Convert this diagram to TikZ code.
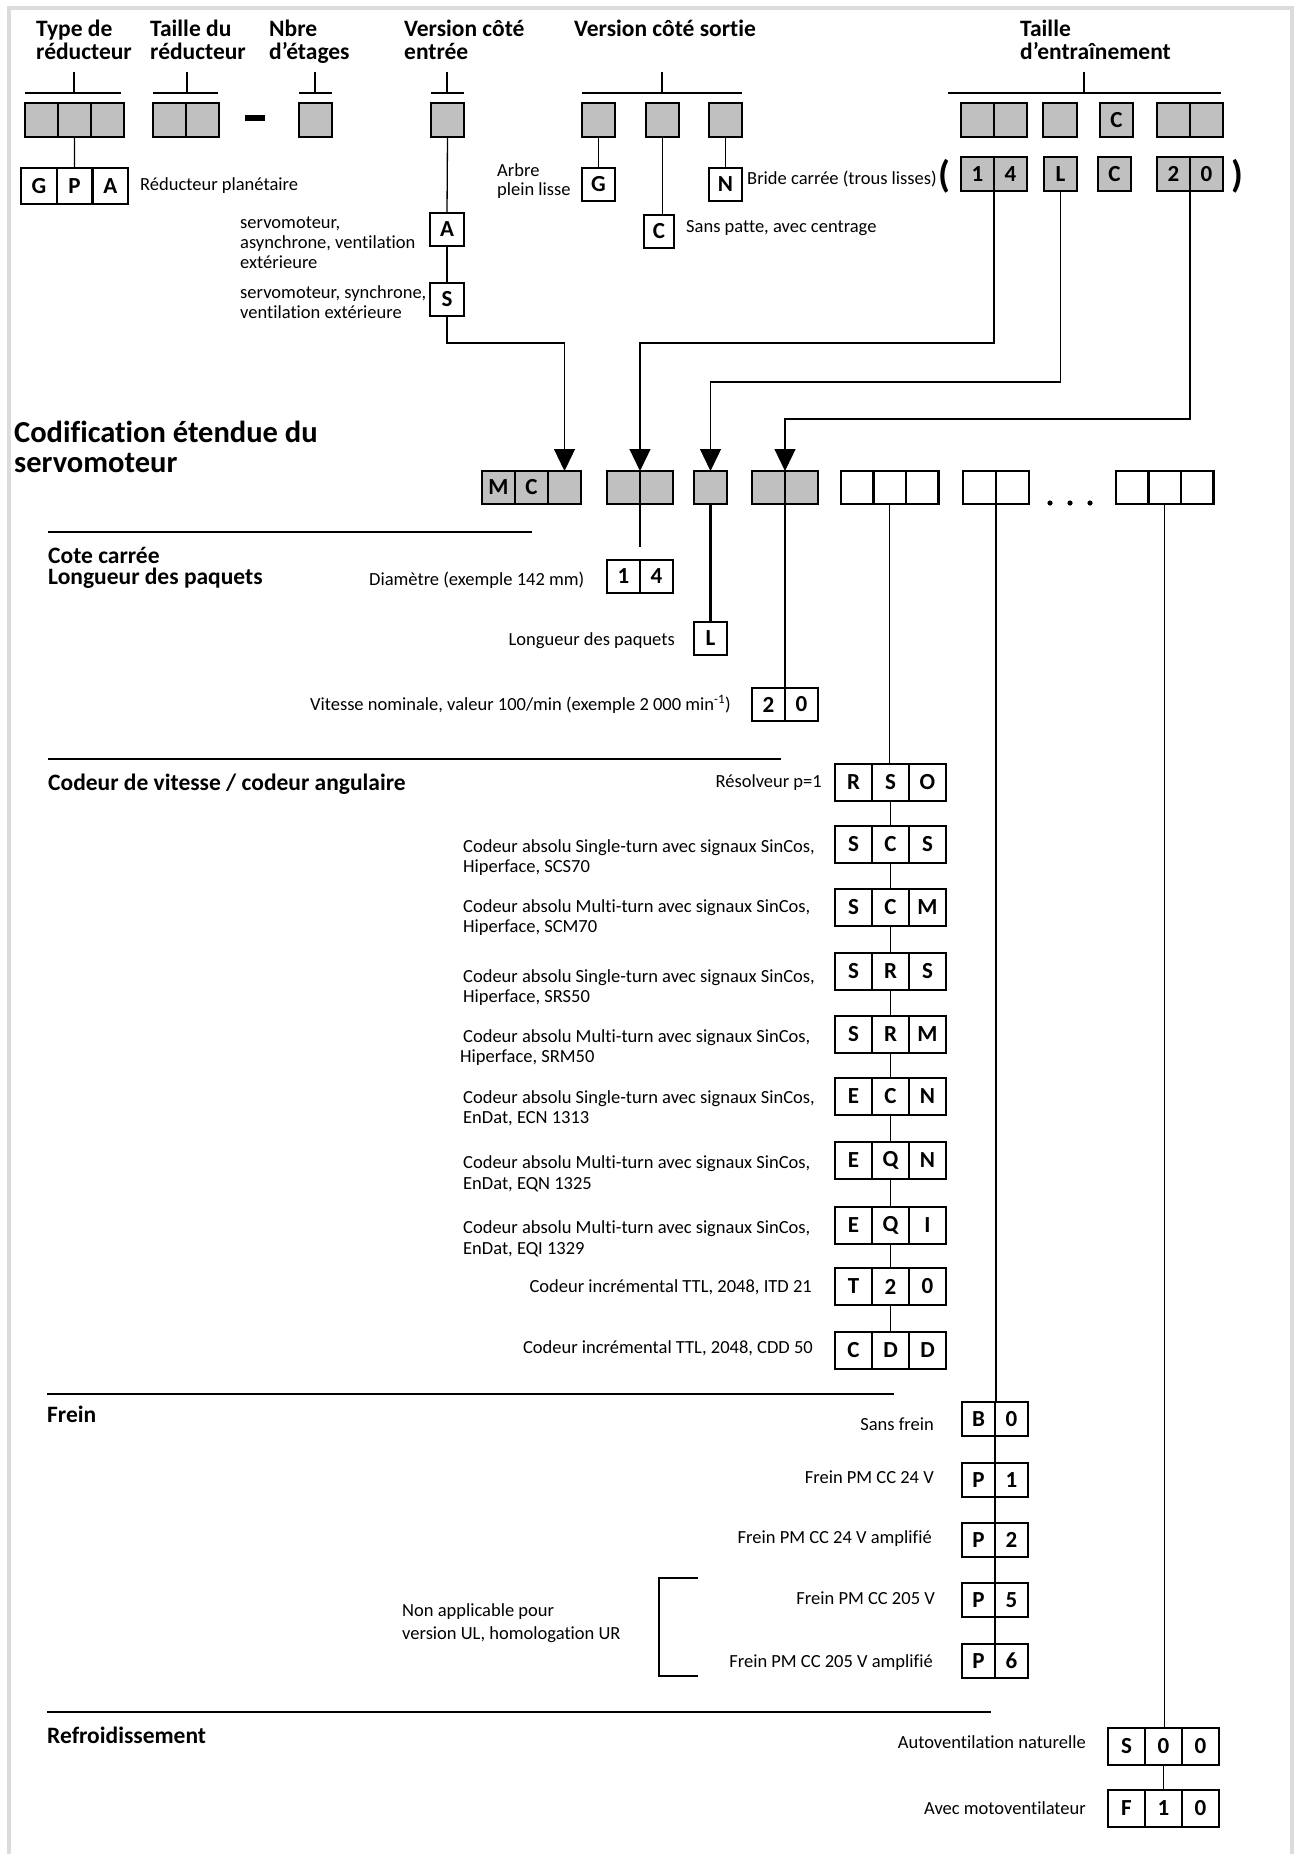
\documentclass[tikz,border=0pt]{standalone}
\usepackage{fontspec}
\setmainfont{Carlito}[Ligatures=NoCommon]
\usetikzlibrary{arrows.meta}
\definecolor{boxgray}{RGB}{192,192,192}
\definecolor{framegray}{RGB}{220,220,220}
\newcommand\nix{}
\newcommand\cbox[7]{%
  \foreach \lt [count=\ci] in {#7} {%
    \node[cell, fill=#6, minimum width=#4pt, minimum height=#5pt] (#1-\ci) at ({#2+(\ci-1)*#4}, #3) {\lt};
  }%
}
\tikzset{
  cell/.style={draw, line width=2.4pt, inner sep=0pt, outer sep=0pt, anchor=north west,
    font=\fontsize{23}{23}\selectfont\bfseries},
  conn/.style={line width=1.3pt},
  arr/.style={-{Triangle[width=21pt,length=22pt]}},
  secline/.style={line width=1.6pt},
  lab/.style={font=\fontsize{18.5}{18.5}\selectfont, inner sep=0pt},
  hdr/.style={font=\fontsize{23.5}{23.5}\selectfont\bfseries, inner sep=0pt},
  big/.style={font=\fontsize{30.5}{30.5}\selectfont\bfseries, inner sep=0pt},
  paren/.style={font=\fontsize{38}{38}\selectfont\bfseries, inner sep=0pt},
}
\begin{document}
\begin{tikzpicture}[x=1pt,y=-1pt]
\useasboundingbox (0,0) rectangle (1295,1854);
\fill[white] (0,0) rectangle (1295,1854);
\draw[framegray, line width=4pt] (9,1854) -- (9,8.5) -- (1292,8.5) -- (1292,1854);

% ---------- headers ----------
\node[hdr, anchor=base west] (h1a) at (36,37) {Type de};
\node[hdr, anchor=base west] (h1b) at (36,60) {réducteur};
\node[hdr, anchor=base west] (h2a) at (150,37) {Taille du};
\node[hdr, anchor=base west] (h2b) at (150,60) {réducteur};
\node[hdr, anchor=base west] (h3a) at (269,37) {Nbre};
\node[hdr, anchor=base west] (h3b) at (269,60) {d’étages};
\node[hdr, anchor=base west] (h4a) at (404,37) {Version côté};
\node[hdr, anchor=base west] (h4b) at (404,60) {entrée};
\node[hdr, anchor=base west] (h5) at (574,37) {Version côté sortie};
\node[hdr, anchor=base west] (h6a) at (1020,37) {Taille};
\node[hdr, anchor=base west] (h6b) at (1020,60) {d’entraînement};

% header brackets
\draw[conn] (74,72) -- (74,93) (25,93) -- (121,93);
\draw[conn] (187,72) -- (187,93) (153,93) -- (218,93);
\draw[conn] (315,72) -- (315,93) (299,93) -- (332,93);
\draw[conn] (447,72) -- (447,93) (431,93) -- (464,93);
\draw[conn] (662,72) -- (662,93) (582,93) -- (742,93);
\draw[conn] (1084,72) -- (1084,93) (948,93) -- (1221,93);

% ---------- row 1 ----------
\cbox{t1}{25}{103}{33}{34}{boxgray}{\nix,\nix,\nix}
\cbox{t2}{153}{103}{33}{34}{boxgray}{\nix,\nix}
\draw[line width=6pt] (245,118.5) -- (265,118.5);
\cbox{t3}{299}{103}{33}{34}{boxgray}{\nix}
\cbox{t4}{431}{103}{33}{34}{boxgray}{\nix}
\cbox{t5a}{582}{103}{33}{34}{boxgray}{\nix}
\cbox{t5b}{646}{103}{33}{34}{boxgray}{\nix}
\cbox{t5c}{709}{103}{33}{34}{boxgray}{\nix}
\cbox{t6a}{961}{103}{33}{34}{boxgray}{\nix,\nix}
\cbox{t6b}{1043}{103}{34}{34}{boxgray}{\nix}
\cbox{t6c}{1100}{103}{33}{34}{boxgray}{C}
\cbox{t6d}{1157}{103}{33}{34}{boxgray}{\nix,\nix}

% ---------- row 2 ----------
\cbox{gpa}{21}{168}{35.7}{36}{white}{G,P,A}
\node[lab, anchor=base west] (lgpa) at (140,190) {Réducteur planétaire};
\cbox{ka}{430}{213}{34}{33}{white}{A}
\cbox{ks}{430}{283}{34}{33}{white}{S}
\node[lab, anchor=base west] (la1) at (240,228) {servomoteur,};
\node[lab, anchor=base west] (la2) at (240,248) {asynchrone, ventilation};
\node[lab, anchor=base west] (la3) at (240,268) {extérieure};
\node[lab, anchor=base west] (ls1) at (240,298) {servomoteur, synchrone,};
\node[lab, anchor=base west] (ls2) at (240,318) {ventilation extérieure};
\cbox{og}{582}{168}{33}{33}{white}{G}
\cbox{on}{709}{168}{33}{33}{white}{N}
\cbox{oc}{644}{215}{30}{33}{white}{C}
\node[lab, anchor=base west] (lg1) at (497,177) {Arbre};
\node[lab, anchor=base west] (lg2) at (497,196) {plein lisse};
\node[lab, anchor=base west] (ln) at (747,185) {Bride carrée (trous lisses)};
\node[paren] (po) at (944,176) {(};
\node[paren] (pf) at (1237,176) {)};
\node[lab, anchor=base west] (lc) at (686,233) {Sans patte, avec centrage};
\cbox{p14}{961}{157}{33}{34}{boxgray}{1,4}
\cbox{pl}{1044}{157}{33}{34}{boxgray}{L}
\cbox{pc}{1098}{157}{33}{34}{boxgray}{C}
\cbox{p20}{1157}{157}{33}{34}{boxgray}{2,0}

% ---------- row 3 ----------
\node[big, anchor=base west] (ti1) at (14,442) {Codification étendue du};
\node[big, anchor=base west] (ti2) at (14,472) {servomoteur};
\cbox{mc}{482}{471}{33}{33}{boxgray}{M,C,\nix}
\cbox{b2}{607}{471}{33}{33}{boxgray}{\nix,\nix}
\cbox{b3}{694}{471}{33}{33}{boxgray}{\nix}
\cbox{b4}{752}{471}{33}{33}{boxgray}{\nix,\nix}
\cbox{b5}{841}{471}{32.5}{33}{white}{\nix,\nix,\nix}
\cbox{b6}{963}{471}{33}{33}{white}{\nix,\nix}
\fill (1050,503) circle (2.6) (1070,503) circle (2.6) (1090,503) circle (2.6);
\cbox{b7}{1116}{471}{32.5}{33}{white}{\nix,\nix,\nix}

% connectors top
\draw[conn] (t1-2.south) -- (gpa-2.north);
\draw[conn] (t4-1.south) -- (ka-1.north);
\draw[conn] (ka-1.south) -- (ks-1.north);
\draw[conn,arr] (ks-1.south) -- ++(0,27) -| (mc-3.north);
\draw[conn] (t5a-1.south) -- (og-1.north);
\draw[conn] (t5b-1.south) -- (t5b-1.south |- oc-1.north);
\draw[conn] (t5c-1.south) -- (on-1.north);
\draw[conn,arr] (p14-1.south east) -- ++(0,152) -| (b2-1.north east);
\draw[conn,arr] (pl-1.south) -- ++(0,191) -| (b3-1.north);
\draw[conn,arr] (p20-1.south east) -- ++(0,228) -| (b4-1.north east);

% ---------- Cote carrée ----------
\draw[secline] (48,532) -- (532,532);
\node[hdr, anchor=base west] (sc1) at (48,563) {Cote carrée};
\node[hdr, anchor=base west] (sc2) at (48,584) {Longueur des paquets};
\cbox{d14}{607}{560}{33}{33}{white}{1,4}
\cbox{dl}{694}{622}{33}{33}{white}{L}
\cbox{d20}{752}{688}{33}{33}{white}{2,0}
\node[lab, anchor=base west] (ld14) at (369,585) {Diamètre (exemple 142 mm)};
\node[lab, anchor=base east] (ldl) at (675,645) {Longueur des paquets};
\node[lab, anchor=base east] (ld20) at (731,710) {Vitesse nominale, valeur 100/min (exemple 2 000 min\textsuperscript{-1})};
\draw[conn,shorten >=13pt] (b2-1.south east) -- (d14-1.north east);
\draw[line width=2.2pt] (b3-1.south) -- (dl-1.north);
\draw[conn] (b4-1.south east) -- (d20-1.north east);

% ---------- Codeur ----------
\draw[secline] (48,759) -- (781,759);
\node[hdr, anchor=base west] (scod) at (48,790) {Codeur de vitesse / codeur angulaire};
\cbox{e1}{835}{764}{37}{37}{white}{R,S,O}
\cbox{e2}{835}{826}{37}{37}{white}{S,C,S}
\cbox{e3}{835}{889}{37}{37}{white}{S,C,M}
\cbox{e4}{835}{953}{37}{37}{white}{S,R,S}
\cbox{e5}{835}{1016}{37}{37}{white}{S,R,M}
\cbox{e6}{835}{1078}{37}{37}{white}{E,C,N}
\cbox{e7}{835}{1142}{37}{37}{white}{E,Q,N}
\cbox{e8}{835}{1207}{37}{37}{white}{E,Q,I}
\cbox{e9}{835}{1268}{37}{37}{white}{T,2,0}
\cbox{e10}{835}{1332}{37}{37}{white}{C,D,D}
\draw[conn] (b5-2.south) -- (b5-2.south |- e1-2.north);
\foreach \a/\b in {1/2,2/3,3/4,4/5,5/6,6/7,7/8,8/9,9/10}
  \draw[conn] (e\a-2.south) -- (e\b-2.north);
\node[lab, anchor=base east] (le1) at (822,787) {Résolveur p=1};
\node[lab, anchor=base west] (le2a) at (463,852) {Codeur absolu Single-turn avec signaux SinCos,};
\node[lab, anchor=base west] (le2b) at (463,872) {Hiperface, SCS70};
\node[lab, anchor=base west] (le3a) at (463,912) {Codeur absolu Multi-turn avec signaux SinCos,};
\node[lab, anchor=base west] (le3b) at (463,932) {Hiperface, SCM70};
\node[lab, anchor=base west] (le4a) at (463,982) {Codeur absolu Single-turn avec signaux SinCos,};
\node[lab, anchor=base west] (le4b) at (463,1002) {Hiperface, SRS50};
\node[lab, anchor=base west] (le5a) at (463,1042) {Codeur absolu Multi-turn avec signaux SinCos,};
\node[lab, anchor=base west] (le5b) at (460,1062) {Hiperface, SRM50};
\node[lab, anchor=base west] (le6a) at (463,1103) {Codeur absolu Single-turn avec signaux SinCos,};
\node[lab, anchor=base west] (le6b) at (463,1123) {EnDat, ECN 1313};
\node[lab, anchor=base west] (le7a) at (463,1168) {Codeur absolu Multi-turn avec signaux SinCos,};
\node[lab, anchor=base west] (le7b) at (463,1189) {EnDat, EQN 1325};
\node[lab, anchor=base west] (le8a) at (463,1233) {Codeur absolu Multi-turn avec signaux SinCos,};
\node[lab, anchor=base west] (le8b) at (463,1254) {EnDat, EQI 1329};
\node[lab, anchor=base east] (le9) at (812,1292) {Codeur incrémental TTL, 2048, ITD 21};
\node[lab, anchor=base east] (le10) at (813,1353) {Codeur incrémental TTL, 2048, CDD 50};

% ---------- Frein ----------
\draw[secline] (47,1394) -- (894,1394);
\node[hdr, anchor=base west] (sfr) at (47,1422) {Frein};
\cbox{f1}{962}{1402}{33}{34}{white}{B,0}
\cbox{f2}{962}{1463}{33}{34}{white}{P,1}
\cbox{f3}{962}{1523}{33}{34}{white}{P,2}
\cbox{f4}{962}{1583}{33}{34}{white}{P,5}
\cbox{f5}{962}{1644}{33}{34}{white}{P,6}
\draw[conn] (b6-1.south east) -- (b6-1.south east |- f1-1.north);
\foreach \a/\b in {1/2,2/3,3/4,4/5}
  \draw[conn] (f\a-1.south east) -- (f\b-1.north east);
\node[lab, anchor=base east] (lf1) at (934,1430) {Sans frein};
\node[lab, anchor=base east] (lf2) at (934,1483) {Frein PM CC 24 V};
\node[lab, anchor=base east] (lf3) at (932,1543) {Frein PM CC 24 V amplifié};
\node[lab, anchor=base east] (lf4) at (935,1604) {Frein PM CC 205 V};
\node[lab, anchor=base east] (lf5) at (933,1667) {Frein PM CC 205 V amplifié};
\draw[conn] (698,1578) -- (659,1578) -- (659,1676) -- (698,1676);
\node[lab, anchor=base west] (lna1) at (402,1616) {Non applicable pour};
\node[lab, anchor=base west] (lna2) at (402,1639) {version UL, homologation UR};

% ---------- Refroidissement ----------
\draw[secline] (47,1712) -- (991,1712);
\node[hdr, anchor=base west] (sre) at (47,1743) {Refroidissement};
\cbox{c1}{1108}{1728}{37}{37}{white}{S,0,0}
\cbox{c2}{1108}{1790}{37}{37}{white}{F,1,0}
\draw[conn] (b7-2.south) -- (b7-2.south |- c1-2.north);
\draw[conn] (c1-2.south) -- (c2-2.north);
\node[lab, anchor=base east] (lc1) at (1086,1748) {Autoventilation naturelle};
\node[lab, anchor=base east] (lc2) at (1086,1814) {Avec motoventilateur};
\end{tikzpicture}
\end{document}
